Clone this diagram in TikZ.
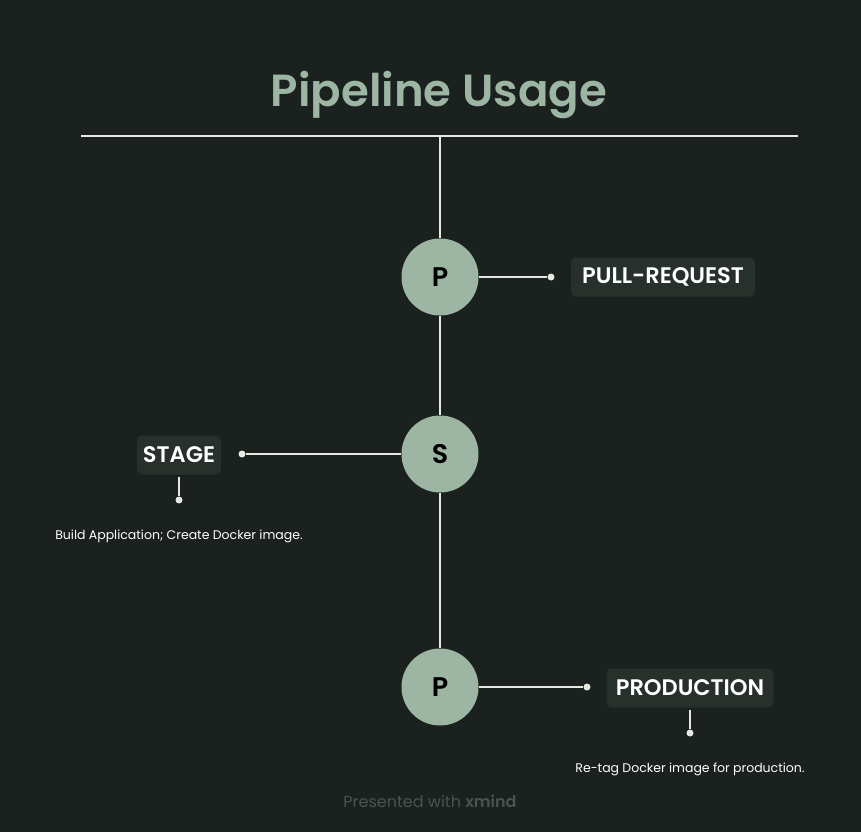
\documentclass[tikz,border=0pt]{standalone}
\usepackage{fontspec}
\setmainfont{Poppins}
\newfontfamily\popsb{Poppins SemiBold}
\newfontfamily\popmed{Poppins Medium}
\definecolor{bg}{HTML}{1B211E}
\definecolor{sage}{HTML}{9DB5A3}
\definecolor{boxc}{HTML}{27302B}
\definecolor{linec}{HTML}{E6E8E2}
\definecolor{footc}{HTML}{4C534F}
\begin{document}
\begin{tikzpicture}[x=1pt,y=-1pt,
  conn/.style={draw=linec,line width=1.6pt},
  stop/.style={circle,fill=linec,inner sep=0pt,minimum size=7pt},
  hub/.style={circle,fill=sage,minimum size=77pt,inner sep=0pt,font=\popsb\fontsize{27}{30}\selectfont,text=black},
  topicbox/.style={rounded corners=5pt,fill=boxc,text=white,font=\popsb\fontsize{22.5}{26}\selectfont,inner sep=0pt,minimum height=39pt},
  note/.style={text=white,font=\fontsize{12.5}{15}\selectfont,inner sep=0pt}]
\fill[bg] (0,0) rectangle (861,832);
\useasboundingbox (0,0) rectangle (861,832);
\node[text=sage,font=\popsb\fontsize{45}{52}\selectfont] (title) at (439,95) {Pipeline Usage};
\coordinate (hl) at (81,136);
\coordinate (hr) at (798,136);
\coordinate (top) at (440,136);
\draw[conn] (hl) -- (hr);
\node[hub] (p1) at (440,277) {P};
\node[hub] (s) at (440,454) {S};
\node[hub] (p2) at (440,687) {P};
\draw[conn] (top) -- (p1) -- (s) -- (p2);
% pull request
\node[stop] (d1) at (551,277) {};
\node[topicbox,minimum width=184pt] (pr) at (663,277) {PULL-REQUEST};
\draw[conn] (p1) -- (d1);
% stage
\node[stop] (d2) at (242,454) {};
\node[topicbox,minimum width=84pt] (st) at (179,455) {STAGE};
\draw[conn] (s) -- (d2);
\node[stop] (d3) at (179,500) {};
\draw[conn] (st.south) ++(0,2) -- (d3);
\node[note] (n1) at (179,536) {Build Application; Create Docker image.};
% production
\node[stop] (d4) at (587,687) {};
\node[topicbox,minimum width=167pt] (pd) at (690,688) {PRODUCTION};
\draw[conn] (p2) -- (d4);
\node[stop] (d5) at (690,733) {};
\draw[conn] (pd.south) ++(0,2) -- (d5);
\node[note] (n2) at (690,769) {Re-tag Docker image for production.};
% footer
\node[text=footc,font=\fontsize{16}{19}\selectfont] (ft) at (430,801) {Presented with {\popsb xmind}};
\end{tikzpicture}
\end{document}
